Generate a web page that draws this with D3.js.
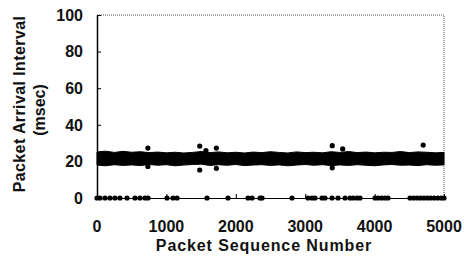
<!DOCTYPE html>
<html>
<head>
<meta charset="utf-8">
<script src="https://cdn.jsdelivr.net/npm/d3@7"></script>
<style>
  body { margin: 0; background: #fff; }
  text { font-family: "Liberation Sans", Arial, sans-serif; fill: #111; }
</style>
</head>
<body>
<div id="chart"></div>
<script>
// Dense band of arrival intervals: envelope (msec)
var band_seq  = [0, 125, 250, 375, 500, 625, 750, 875, 1000, 1125, 1250, 1375, 1500,
                 1625, 1750, 1875, 2000, 2125, 2250, 2375, 2500, 2625, 2750, 2875, 3000,
                 3125, 3250, 3375, 3500, 3625, 3750, 3875, 4000, 4125, 4250, 4375, 4500,
                 4625, 4750, 4875, 5000];
var band_high = [25.2, 25.6, 24.9, 25.5, 25.0, 25.3, 24.8, 25.1, 24.7, 25.0, 24.6, 24.9, 25.4,
                 24.8, 25.2, 24.7, 25.0, 24.6, 25.1, 24.8, 25.3, 24.9, 24.6, 25.2, 24.8,
                 25.0, 24.7, 25.3, 24.9, 25.4, 24.8, 25.1, 24.7, 25.0, 24.9, 25.4, 24.8,
                 25.2, 25.0, 24.7, 24.9];
var band_low  = [18.0, 17.6, 18.2, 17.8, 18.1, 17.7, 18.3, 17.9, 18.2, 17.6, 18.0, 18.3, 18.5,
                 17.8, 18.2, 17.9, 18.3, 17.7, 18.0, 18.2, 17.8, 18.1, 17.6, 18.0, 18.3,
                 17.9, 18.2, 17.7, 18.1, 17.8, 18.2, 17.9, 17.6, 18.1, 18.3, 17.9, 18.0,
                 17.7, 18.2, 17.9, 18.1];

// Isolated points above / below the band
var outlier_seq = [733, 733, 1480, 1480, 1570, 1720, 1720, 3390, 3390, 3540, 4700];
var outlier_val = [27.3, 17.2, 28.4, 15.3, 25.9, 27.3, 16.2, 28.6, 16.5, 26.8, 28.9];

// Packets with (near) zero interval
var zero_seq = [0, 43, 115, 187, 259, 331, 432, 548, 620, 692, 735, 1009, 1095, 1153,
                1585, 1888, 2176, 2234, 2349, 2378, 2810, 3040, 3098, 3141, 3242, 3285,
                3386, 3473, 3574, 3646, 3689, 3746, 3790, 4006, 4050, 4100, 4150, 4193,
                4510, 4560, 4610, 4660, 4710, 4760, 4810, 4860, 4910, 4960, 5000];

var x_ticks = [0, 1000, 2000, 3000, 4000, 5000];
var y_ticks = [0, 20, 40, 60, 80, 100];

var W = 464, H = 257;
var PLOT_L = 97, PLOT_R = 444, PLOT_T = 15, PLOT_B = 198;
var DOT_R = 2.6;

var svg = d3.select("#chart").append("svg")
    .attr("width", W).attr("height", H);

var x = d3.scaleLinear().domain([0, 5000]).range([PLOT_L, PLOT_R]);
var y = d3.scaleLinear().domain([0, 100]).range([PLOT_B, PLOT_T]);

// Dotted frame on top and right
svg.append("path")
    .attr("d", "M" + PLOT_L + "," + PLOT_T + "H" + PLOT_R + "V" + PLOT_B)
    .attr("fill", "none")
    .attr("stroke", "#555")
    .attr("stroke-width", 1)
    .attr("stroke-dasharray", "1,1");

// Axes: ticks point inward
var y_axis = svg.append("g")
    .attr("transform", "translate(" + PLOT_L + ",0)")
    .call(d3.axisRight(y).tickValues(y_ticks).tickSize(4).tickSizeOuter(0).tickFormat(""));
y_axis.select(".domain").attr("stroke", "#000").attr("stroke-width", 1.5);

var x_axis = svg.append("g")
    .attr("transform", "translate(0," + PLOT_B + ")")
    .call(d3.axisTop(x).tickValues(x_ticks).tickSize(4).tickSizeOuter(0).tickFormat(""));
x_axis.select(".domain").attr("stroke", "#000").attr("stroke-width", 1.2);

// Tick labels
svg.selectAll("text.ylab").data(y_ticks).enter().append("text")
    .attr("class", "ylab")
    .attr("x", PLOT_L - 14)
    .attr("y", function (d) { return y(d); })
    .attr("dy", "0.36em")
    .attr("text-anchor", "end")
    .attr("font-size", 16)
    .attr("font-weight", "bold")
    .text(function (d) { return d; });

svg.selectAll("text.xlab").data(x_ticks).enter().append("text")
    .attr("class", "xlab")
    .attr("x", function (d) { return x(d); })
    .attr("y", 226)
    .attr("dy", "0.36em")
    .attr("text-anchor", "middle")
    .attr("font-size", 16)
    .attr("font-weight", "bold")
    .text(function (d) { return d; });

// Axis titles
svg.append("text")
    .attr("x", 264).attr("y", 245).attr("dy", "0.36em")
    .attr("text-anchor", "middle")
    .attr("font-size", 16).attr("font-weight", "bold")
    .attr("letter-spacing", 0.9)
    .text("Packet Sequence Number");

var ytitle = svg.append("g").attr("transform", "translate(0,104) rotate(-90)");
ytitle.append("text")
    .attr("x", 0).attr("y", 19).attr("dy", "0.36em")
    .attr("text-anchor", "middle")
    .attr("font-size", 16).attr("font-weight", "bold")
    .attr("letter-spacing", 0.4)
    .text("Packet Arrival Interval");
ytitle.append("text")
    .attr("x", -6).attr("y", 39).attr("dy", "0.36em")
    .attr("text-anchor", "middle")
    .attr("font-size", 16).attr("font-weight", "bold")
    .text("(msec)");

// Dense band
var band = d3.range(band_seq.length).map(function (i) {
    return { s: band_seq[i], lo: band_low[i], hi: band_high[i] };
});
svg.append("path")
    .datum(band)
    .attr("fill", "#000")
    .attr("stroke", "#000")
    .attr("stroke-width", 1)
    .attr("d", d3.area()
        .x(function (d) { return x(d.s); })
        .y0(function (d) { return y(d.lo); })
        .y1(function (d) { return y(d.hi); })
        .curve(d3.curveLinear));

// Outliers
svg.selectAll("circle.out").data(outlier_seq).enter().append("circle")
    .attr("class", "out")
    .attr("cx", function (d) { return x(d); })
    .attr("cy", function (d, i) { return y(outlier_val[i]); })
    .attr("r", DOT_R)
    .attr("fill", "#000");

// Zero-interval packets
svg.selectAll("circle.zero").data(zero_seq).enter().append("circle")
    .attr("class", "zero")
    .attr("cx", function (d) { return x(d); })
    .attr("cy", y(0))
    .attr("r", DOT_R)
    .attr("fill", "#000");
</script>
</body>
</html>
